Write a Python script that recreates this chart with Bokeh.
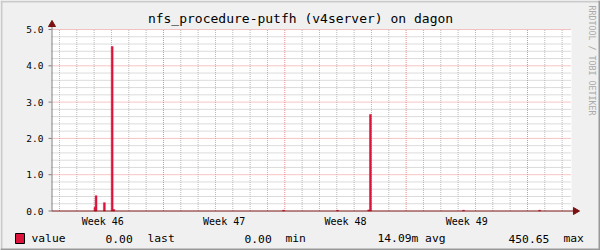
import math
from bokeh.plotting import figure
from bokeh.models import Range1d
from bokeh.core.properties import value
from bokeh.embed import file_html
from bokeh.resources import INLINE

# ---- data (x in days since graph start) ----
spike_days = [2.51, 2.57, 3.05, 3.50, 3.60, 13.39, 16.50, 18.30, 18.40, 23.77, 28.16]
spike_vals = [0.10, 0.42, 0.23, 4.53, 0.04, 0.02, 0.02, 0.03, 2.66, 0.02, 0.02]
week_labels = ["Week 46", "Week 47", "Week 48", "Week 49"]
week_centers = [2.96, 9.96, 16.96, 23.96]
week_bounds = [6.46, 13.46, 20.46, 27.46]
day_lines = [round(0.46 + i, 2) for i in range(30)]
y_ticks = [0, 1, 2, 3, 4, 5]
y_tick_labels = ["0.0", "1.0", "2.0", "3.0", "4.0", "5.0"]
y_minor = [round(0.2 * i, 1) for i in range(1, 26)]
title_text = "nfs_procedure-putfh (v4server) on dagon"
legend_texts = ["value", "0.00", "last", "0.00", "min", "14.09m avg", "450.65", "max"]
legend_px = [31, 105, 147, 244, 285, 377, 508, 563]
watermark = "RRDTOOL / TOBI OETIKER"

# ---- style / layout ----
MONO = "DejaVu Sans Mono"
BACK = "#F0F0F0"
AXIS_RED = "#7A1010"
SPIKE = "#DC143C"
GRID_MINOR = "#B8B8B8"
GRID_MAJOR = "#EE8A8A"
W, H = 600, 250
PX_L, PX_R = 51, 571      # plot area in pixels
PX_B, PX_T = 210.5, 29
X0, X1 = 0.0, 30.0
Y0, Y1 = 0.0, 5.0
kx = (X1 - X0) / (PX_R - PX_L)
ky = (Y1 - Y0) / (PX_B - PX_T)

p = figure(width=W, height=H, output_backend="svg", toolbar_location=None,
           x_range=Range1d(0, W), y_range=Range1d(H, 0),
           x_axis_location=None, y_axis_location=None, min_border=0,
           background_fill_color=BACK, border_fill_color=BACK)
p.outline_line_color = None
p.grid.visible = False
p.extra_x_ranges = {"t": Range1d(X0 - PX_L * kx, X0 + (W - PX_L) * kx)}
p.extra_y_ranges = {"v": Range1d(Y0 - (H - PX_B) * ky, Y0 + PX_B * ky)}
TV = dict(x_range_name="t", y_range_name="v")

# 3D frame edges
p.quad(left=[0, 0], right=[2, W], top=[0, 0], bottom=[H, 2], fill_color="#CBCBCB", line_color=None)
p.quad(left=[W - 2, 0], right=[W, W], top=[0, H - 2], bottom=[H, H], fill_color="#999999", line_color=None)

# canvas
p.quad(left=[X0], right=[X1], bottom=[Y0], top=[Y1], fill_color="white", line_color=None, **TV)

# grid
wk = set(week_bounds)
dl = [d for d in day_lines if d not in wk]
p.segment(x0=dl, y0=[Y0] * len(dl), x1=dl, y1=[Y1] * len(dl), line_color=GRID_MINOR,
          line_dash="1 1", line_width=1, **TV)
ym = [y for y in y_minor if abs(y - round(y)) > 1e-6]
p.segment(x0=[X0] * len(ym), y0=ym, x1=[X1] * len(ym), y1=ym, line_color=GRID_MINOR,
          line_dash="1 1", line_width=1, **TV)
p.segment(x0=week_bounds, y0=[Y0] * 4, x1=week_bounds, y1=[Y1] * 4, line_color=GRID_MAJOR,
          line_dash="1 1", line_width=1, **TV)
yM = y_ticks[1:]
p.segment(x0=[X0] * len(yM), y0=yM, x1=[X1] * len(yM), y1=yM, line_color=GRID_MAJOR,
          line_dash="1 1", line_width=1, **TV)

# spikes
p.vbar(x=spike_days, top=spike_vals, bottom=0, width=0.11, fill_color=SPIKE,
       line_color=SPIKE, line_width=0.5, **TV)

# axes lines and arrows
p.segment(x0=[PX_L + 0.5], y0=[PX_B], x1=[PX_L + 0.5], y1=[25], line_color="#808080", line_width=1)
p.segment(x0=[PX_L], y0=[PX_B], x1=[575], y1=[PX_B], line_color=AXIS_RED, line_width=1)
p.scatter(x=[PX_L + 0.5], y=[24], marker="triangle", size=7, fill_color=AXIS_RED, line_color=AXIS_RED)
p.scatter(x=[575], y=[PX_B], marker="triangle", angle=-math.pi / 2, size=7,
          fill_color=AXIS_RED, line_color=AXIS_RED)
# small y ticks
p.segment(x0=[PX_L - 3] * 6, y0=y_ticks, x1=[PX_L] * 6, y1=y_ticks, line_color="#808080",
          line_width=1, y_range_name="v")

# tick labels
p.text(x=[PX_L - 8] * 6, y=y_ticks, text=y_tick_labels, y_range_name="v",
       text_font=value(MONO), text_font_size=value("9.5px"), text_align="right",
       text_baseline="middle", text_color="black")
p.text(x=week_centers, y=[220.5] * 4, text=week_labels, x_range_name="t",
       text_font=value(MONO), text_font_size=value("10px"), text_align="center",
       text_baseline="middle", text_color="black")

# title
p.text(x=[300], y=[18], text=[title_text], text_font=value(MONO), text_font_size=value("13px"),
       text_align="center", text_baseline="middle", text_color="black")

# legend
p.quad(left=[15], right=[24], top=[233], bottom=[243], fill_color=SPIKE, line_color="black", line_width=1)
p.text(x=legend_px, y=[238] * len(legend_px), text=legend_texts, text_font=value(MONO),
       text_font_size=value("11.3px"), text_align="left", text_baseline="middle", text_color="black")

# watermark
p.text(x=[591], y=[5], text=[watermark], angle=-math.pi / 2, text_font=value(MONO),
       text_font_size=value("8.3px"), text_align="left", text_baseline="middle", text_color="#AAAAAA")

open("out.html", "w").write(file_html(p, INLINE))
